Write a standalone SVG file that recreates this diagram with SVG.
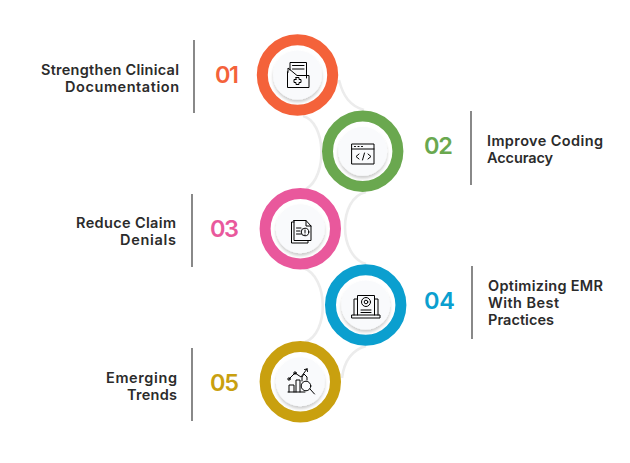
<svg xmlns="http://www.w3.org/2000/svg" width="630" height="463" viewBox="0 0 630 463">
<style>
.ring{fill:none;stroke-width:11}
.disc{fill:#f9fafc;filter:url(#s)}
.bar{stroke:#3a3a3a;stroke-width:1.2}
.lb{font-family:Inter,"Liberation Sans",sans-serif;font-weight:600;font-size:14.5px;fill:#2b2b2b}
.num{font-family:Inter,"Liberation Sans",sans-serif;font-weight:600;font-size:23.5px}
.ic{fill:none;stroke:#000;stroke-width:1;stroke-linejoin:round;stroke-linecap:round}
.cn{fill:none;stroke:#ececec;stroke-width:2.6}
</style>
<defs>
<filter id="s" x="-30%" y="-30%" width="160%" height="170%"><feDropShadow dx="0" dy="2.5" stdDeviation="1.6" flood-color="#000" flood-opacity=".2"/></filter>
</defs>
<rect width="630" height="463" fill="#fff"/>
<g id="connectors">
<path class="cn" d="M339,80C343,96 350,106 364,110"/>
<path class="cn" d="M303,116C326,122 328,176 306,189"/>
<path class="cn" d="M366,192C338,198 338,256 366,264"/>
<path class="cn" d="M303,268C329,276 329,334 305,342"/>
<path class="cn" d="M366,346C352,350 344,362 342,378"/>
</g>
<g id="node1">
<circle class="ring" cx="297.500" cy="75" r="35.200" stroke="#f4623a"/>
<circle class="disc" cx="297.500" cy="75" r="24.500"/>
<path class="ic" d="M290,70V62.500H306.500V78M292.500,65.500H304M292.500,69H304M287.500,72V87.500H309V75.500H297L288,68V72Z"/>
<path class="ic" d="M296,77.500h3v2h2v3h-2v2h-3v-2h-2v-3h2Z"/>
<text class="num" x="215" y="83" textLength="24" fill="#f4623a">01</text>
<line class="bar" x1="194" y1="40" x2="194" y2="113"/>
<text class="lb" x="41" y="75" textLength="138">Strengthen Clinical</text>
<text class="lb" x="65" y="92" textLength="114">Documentation</text>
</g>
<g id="node2">
<circle class="ring" cx="362.700" cy="151.300" r="35.200" stroke="#6aa84f"/>
<circle class="disc" cx="362.700" cy="151.300" r="24.500"/>
<path class="ic" d="M352,144H374V164H352ZM352,149H374M354.500,146.500h1M358,146.500h1M361.500,146.500h1M359,154l-3,2.500 3,2.500M368,154l3,2.500-3,2.500M364.500,153l-2,7"/>
<text class="num" x="424" y="154" textLength="29" fill="#6aa84f">02</text>
<line class="bar" x1="471" y1="111" x2="471" y2="185"/>
<text class="lb" x="487" y="146" textLength="116">Improve Coding</text>
<text class="lb" x="487" y="163" textLength="66">Accuracy</text>
</g>
<g id="node3">
<circle class="ring" cx="300.300" cy="228.700" r="35.200" stroke="#e9589c"/>
<circle class="disc" cx="300.300" cy="228.700" r="24.500"/>
<path class="ic" d="M294,222H291.500V243H308V240.500M294,220.500V240.500H311V226L306,220.500H294ZM306,220.500V226H311M296.500,228H301M296.500,231H300M296.500,234H301"/>
<circle class="ic" cx="305" cy="232" r="3.800"/>
<path class="ic" d="M305,230v2.500M305,234v.2"/>
<text class="num" x="210" y="237" textLength="29" fill="#e9589c">03</text>
<line class="bar" x1="192" y1="194" x2="192" y2="267"/>
<text class="lb" x="76" y="228" textLength="100">Reduce Claim</text>
<text class="lb" x="120" y="245" textLength="56">Denials</text>
</g>
<g id="node4">
<circle class="ring" cx="365.700" cy="305" r="35.200" stroke="#0b9fcf"/>
<circle class="disc" cx="365.700" cy="305" r="24.500"/>
<path class="ic" d="M354,315V299H357.500M378,315V299H374.500M357.500,315V295.500H374.500V315M352,315H380V318H352ZM361,310H371M361,312.500H371"/>
<circle class="ic" cx="366" cy="302" r="4.500"/>
<circle class="ic" cx="366" cy="302" r="1.800"/>
<text class="num" x="424" y="309" textLength="31" fill="#0b9fcf">04</text>
<line class="bar" x1="472" y1="266" x2="472" y2="339"/>
<text class="lb" x="488" y="291" textLength="115">Optimizing EMR</text>
<text class="lb" x="488" y="308" textLength="71">With Best</text>
<text class="lb" x="488" y="325" textLength="66">Practices</text>
</g>
<g id="node5">
<circle class="ring" cx="300.300" cy="381.700" r="35.200" stroke="#c9a00f"/>
<circle class="disc" cx="300.300" cy="381.700" r="24.500"/>
<path class="ic" d="M288,392H305M289,392V385H294V392M296,392V380H300V392M302,381V377L304,374 307,377V380M289,379L295,373 301,377 307,369M307,369l-2.500,.5M307,369l.5,2.500M310,389l4.500,5"/>
<circle class="ic" cx="306" cy="386" r="4.800"/>
<circle class="ic" cx="289" cy="379" r="1.200"/>
<circle class="ic" cx="295" cy="373" r="1.200"/>
<text class="num" x="210" y="391" textLength="29" fill="#c9a00f">05</text>
<line class="bar" x1="192" y1="348" x2="192" y2="421"/>
<text class="lb" x="106" y="383" textLength="71">Emerging</text>
<text class="lb" x="127" y="400" textLength="50">Trends</text>
</g>
</svg>
